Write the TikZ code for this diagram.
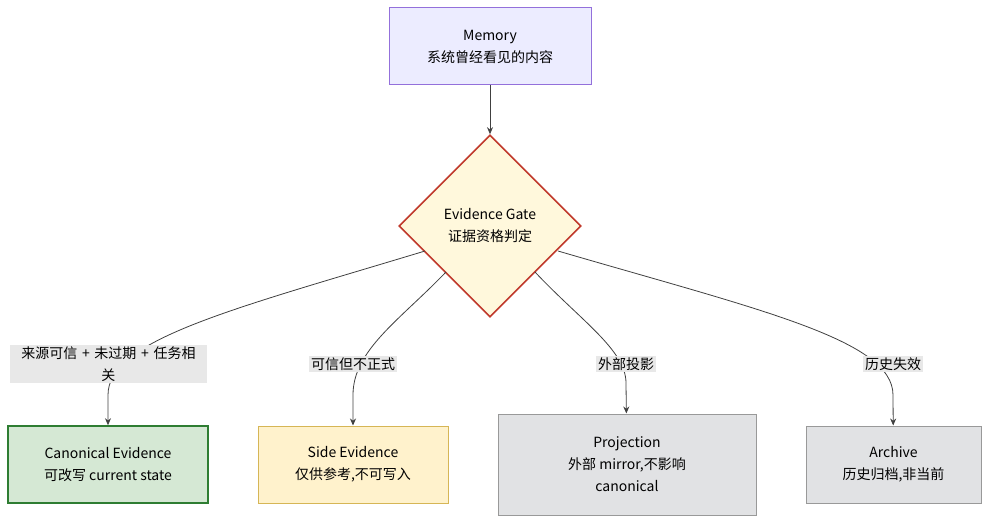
\documentclass[tikz,border=0pt]{standalone}
\usepackage{fontspec}
\setmainfont{Liberation Sans}
\newfontfamily\cjk{Noto Sans CJK SC}
\usetikzlibrary{shapes.geometric,arrows.meta}
\begin{document}
\begin{tikzpicture}[x=1pt,y=-1pt,
  box/.style={draw,line width=1pt,align=center,font=\cjk\fontsize{14}{22}\selectfont,inner sep=0pt},
  lbl/.style={fill=black!9,align=center,font=\cjk\fontsize{14}{22}\selectfont,inner sep=2pt},
  edge/.style={draw=black!75,line width=0.8pt,-{Stealth[length=7pt,width=6pt]}}]
\useasboundingbox (0,0) rectangle (997,527);
\node[box,fill={rgb,255:red,236;green,236;blue,255},draw={rgb,255:red,147;green,112;blue,219},minimum width=202pt,minimum height=77pt] (mem) at (490,46.5) {Memory\\系统曾经看见的内容};
\node[box,diamond,fill={rgb,255:red,255;green,248;blue,220},draw={rgb,255:red,192;green,57;blue,43},line width=1.6pt,minimum width=182pt,minimum height=182pt] (gate) at (490,226) {Evidence Gate\\证据资格判定};
\node[box,fill={rgb,255:red,213;green,232;blue,212},draw={rgb,255:red,46;green,125;blue,50},line width=1.6pt,minimum width=200pt,minimum height=77pt] (can) at (108,464.5) {Canonical Evidence\\可改写 current state};
\node[box,fill={rgb,255:red,255;green,242;blue,204},draw={rgb,255:red,214;green,182;blue,86},minimum width=190pt,minimum height=77pt] (side) at (353,464.5) {Side Evidence\\仅供参考,不可写入};
\node[box,fill={rgb,255:red,225;green,226;blue,228},draw=black!40,minimum width=258pt,minimum height=101pt] (proj) at (627,464.5) {Projection\\外部 mirror,不影响\\canonical};
\node[box,fill={rgb,255:red,225;green,226;blue,228},draw=black!40,minimum width=175pt,minimum height=77pt] (arch) at (893.5,464.5) {Archive\\历史归档,非当前};
\draw[edge] (mem) -- (gate);
\coordinate (s1) at (425,251); \coordinate (s2) at (446,272); \coordinate (s3) at (535,272); \coordinate (s4) at (558,251);
\draw[edge] (s1) .. controls (230,310) and (108,340) .. (108,395) -- (can);
\draw[edge] (s2) .. controls (400,320) and (353,350) .. (353,395) -- (side);
\draw[edge] (s3) .. controls (580,320) and (626,350) .. (626,383) -- (proj);
\draw[edge] (s4) .. controls (760,310) and (893,340) .. (893,395) -- (arch);
\node[lbl,text width=193pt] (l1) at (108.5,364) {来源可信 + 未过期 + 任务相\\关};
\node[lbl] (l2) at (353,364) {可信但不正式};
\node[lbl] (l3) at (626,364) {外部投影};
\node[lbl] (l4) at (893,364) {历史失效};
\end{tikzpicture}
\end{document}
